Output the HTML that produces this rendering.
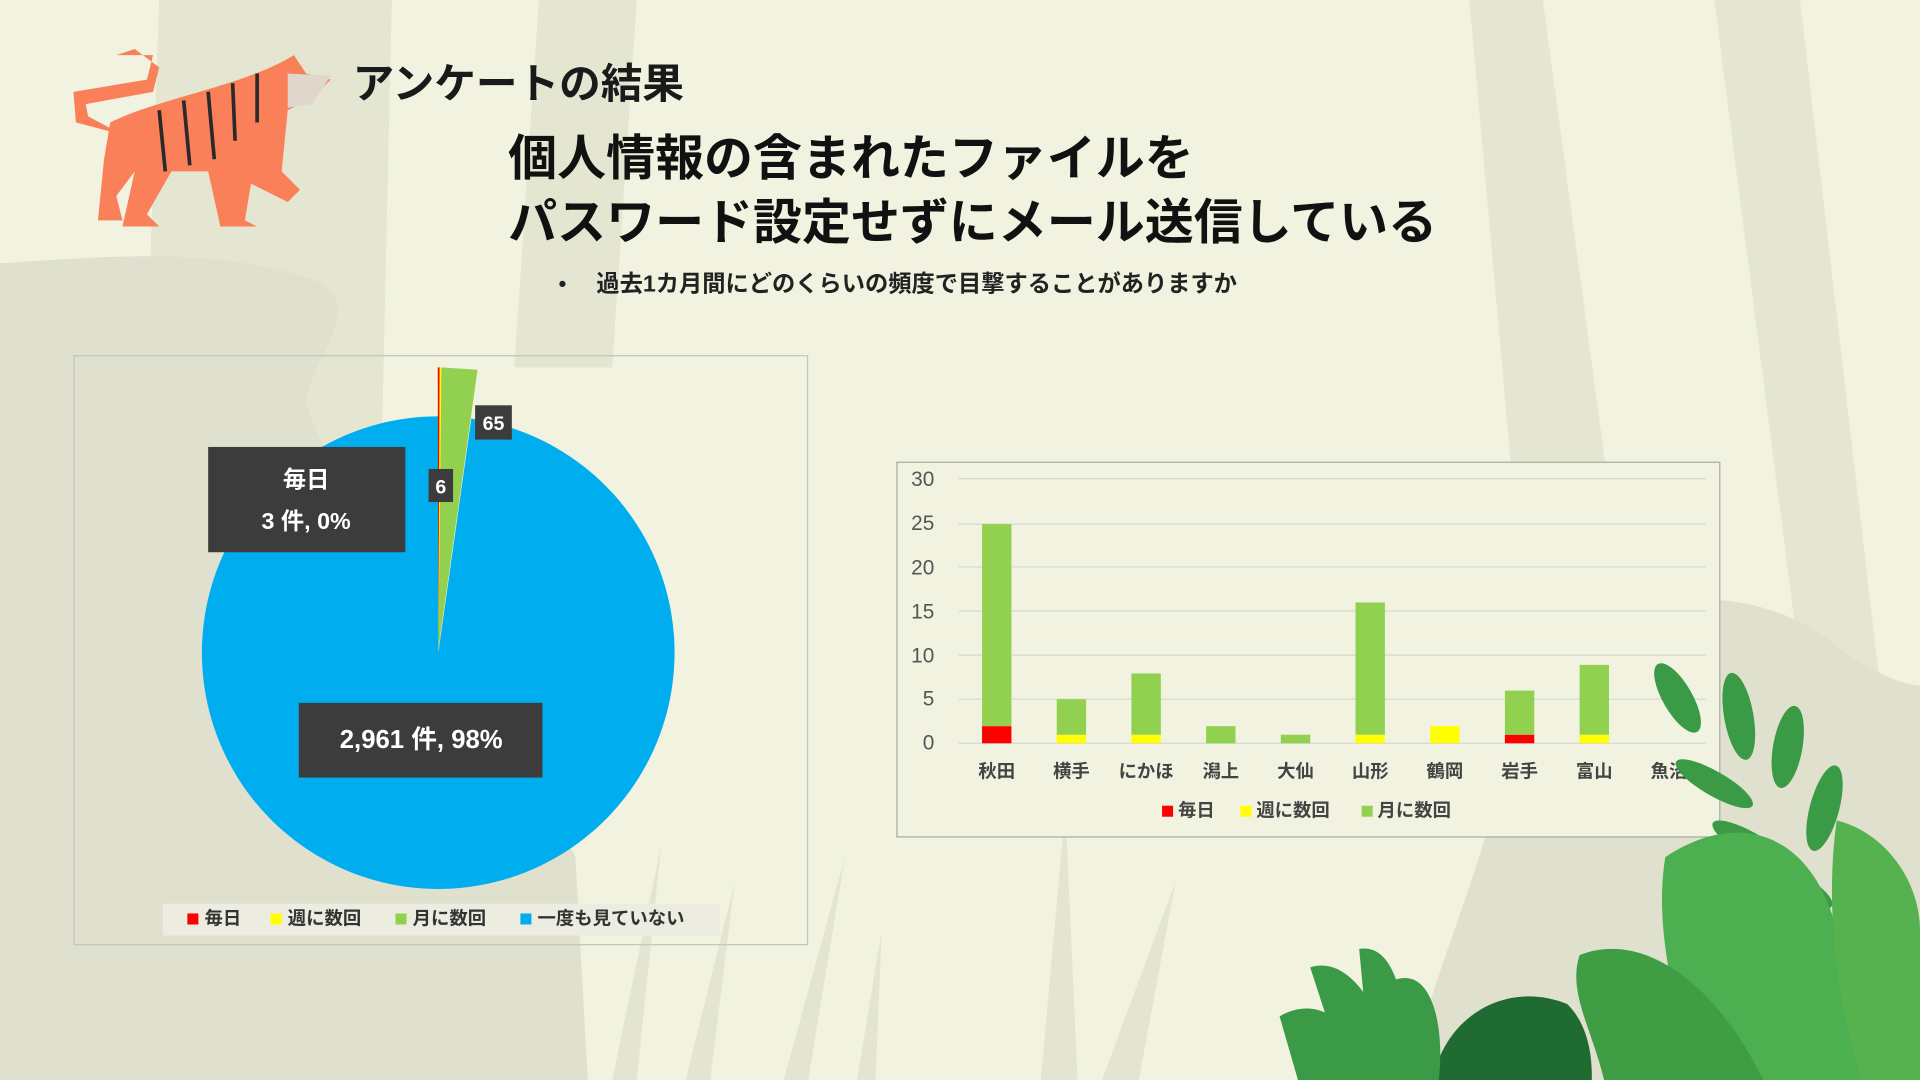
<!DOCTYPE html>
<html><head><meta charset="utf-8"><style>
html,body{margin:0;padding:0;width:1920px;height:1080px;overflow:hidden;background:#f1f3e0}
svg{display:block}
text{font-family:"Liberation Sans","Noto Sans CJK JP",sans-serif}
</style></head><body>
<svg width="1920" height="1080" viewBox="0 0 1568 882" preserveAspectRatio="none" xmlns="http://www.w3.org/2000/svg">
<rect width="1568" height="882" fill="#f1f3e0"/>
<polygon points="130,0 320,0 300,882 100,882" fill="#e4e6d2"/>
<polygon points="440,0 520,0 500,300 420,300" fill="#e4e6d2"/>
<polygon points="1200,0 1260,0 1330,520 1250,560" fill="#e4e6d2"/>
<polygon points="1400,0 1470,0 1540,600 1480,620" fill="#e4e6d2"/>
<path d="M0,215 C80,210 180,200 260,230 C300,250 250,300 250,330 C280,420 400,560 470,700 L480,882 L0,882 Z" fill="#e0e0cf"/>
<path d="M1240,560 C1300,480 1420,470 1490,520 C1540,560 1568,560 1568,560 L1568,882 L1150,882 C1180,760 1220,700 1240,560 Z" fill="#e0e0cf"/>
<g fill="#e3e4d2">
<polygon points="500,882 540,690 520,882"/><polygon points="560,882 600,720 580,882"/>
<polygon points="640,882 690,700 660,882"/><polygon points="700,882 720,760 715,882"/>
<polygon points="850,882 870,660 880,882"/><polygon points="900,882 960,720 930,882"/>
</g>
<g>
<path d="M62,100 L60,75 L120,65 L125,45 L95,45 L110,40 L130,55 L125,75 L70,85 L72,95 L100,110 Z" fill="#f98058"/>
<path d="M90,100 C130,80 200,70 240,45 L250,60 L270,65 L255,80 L235,90 L230,140 L245,155 L235,165 L205,150 L200,180 L210,185 L180,185 L170,140 L140,140 L120,175 L130,185 L100,185 L110,140 L95,160 L100,180 L80,180 L85,130 Z" fill="#f98058"/>
<path d="M130,90 L135,140 M150,82 L155,135 M170,75 L175,130 M190,68 L192,115 M210,60 L210,100" stroke="#2a2a2a" stroke-width="3"/>
<path d="M235,60 L270,62 L255,85 L235,88 Z" fill="#e0d6cc"/>
</g>
<text x="288" y="80" font-size="34" fill="#1a1a1a" font-weight="bold">アンケートの結果</text>
<text x="415" y="143" font-size="40" font-weight="bold" fill="#111">個人情報の含まれたファイルを</text>
<text x="415" y="195" font-size="40" font-weight="bold" fill="#111">パスワード設定せずにメール送信している</text>
<text x="456" y="238" font-size="19" fill="#222">•</text>
<text x="487" y="238" font-size="19" fill="#222" font-weight="bold">過去1カ月間にどのくらいの頻度で目撃することがありますか</text>
<rect x="60.5" y="290.5" width="599" height="481" fill="none" stroke="#c3c3c3"/>
<path d="M358,533 L384.9,341.9 A193,193 0 1,1 358,340 Z" fill="#00aeef"/>
<polygon points="358,530 360,300 390,302" fill="#92d050"/>
<polygon points="358,530 359,300 360.5,300" fill="#ffff00"/>
<polygon points="358,530 357.5,300 359,300" fill="#ff0000"/>
<rect x="170" y="365" width="161" height="86" fill="#3c3c3c"/>
<text x="250" y="398" font-size="19" fill="#fff" text-anchor="middle" font-weight="bold">毎日</text>
<text x="250" y="432" font-size="19" fill="#fff" text-anchor="middle" font-weight="bold">3 件, 0%</text>
<rect x="350" y="383" width="20" height="27" fill="#3c3c3c"/>
<text x="360" y="403" font-size="16" fill="#fff" text-anchor="middle" font-weight="bold">6</text>
<rect x="388" y="331" width="30" height="28" fill="#3c3c3c"/>
<text x="403" y="351" font-size="16" fill="#fff" text-anchor="middle" font-weight="bold">65</text>
<rect x="244" y="574" width="199" height="61" fill="#3c3c3c"/>
<text x="344" y="611" font-size="21" fill="#fff" text-anchor="middle" font-weight="bold">2,961 件, 98%</text>
<rect x="133" y="738" width="455" height="26" fill="#ecece0"/>
<g font-size="15" fill="#333" font-weight="bold">
<rect x="153" y="746" width="9" height="9" fill="#ff0000"/><text x="167" y="755">毎日</text>
<rect x="221" y="746" width="9" height="9" fill="#ffff00"/><text x="235" y="755">週に数回</text>
<rect x="323" y="746" width="9" height="9" fill="#92d050"/><text x="337" y="755">月に数回</text>
<rect x="425" y="746" width="9" height="9" fill="#00aeef"/><text x="439" y="755">一度も見ていない</text>
</g>
<rect x="732.5" y="377.5" width="672" height="306" fill="#f1f3e0" stroke="#a9a9a9"/>
<g stroke="#d6d6d6" stroke-width="1">
<line x1="783" y1="391" x2="1393" y2="391"/>
<line x1="783" y1="428" x2="1393" y2="428"/>
<line x1="783" y1="463" x2="1393" y2="463"/>
<line x1="783" y1="499" x2="1393" y2="499"/>
<line x1="783" y1="535" x2="1393" y2="535"/>
<line x1="783" y1="571" x2="1393" y2="571"/>
<line x1="783" y1="607" x2="1393" y2="607"/>
</g>
<g font-size="17" fill="#555" text-anchor="end">
<text x="763" y="397">30</text><text x="763" y="433">25</text><text x="763" y="469">20</text>
<text x="763" y="505">15</text><text x="763" y="541">10</text><text x="763" y="576">5</text><text x="763" y="612">0</text>
</g>
<g>
<rect x="802" y="593" width="24" height="14" fill="#ff0000"/><rect x="802" y="428" width="24" height="165" fill="#92d050"/>
<rect x="863" y="600" width="24" height="7" fill="#ffff00"/><rect x="863" y="571" width="24" height="29" fill="#92d050"/>
<rect x="924" y="600" width="24" height="7" fill="#ffff00"/><rect x="924" y="550" width="24" height="50" fill="#92d050"/>
<rect x="985" y="593" width="24" height="14" fill="#92d050"/>
<rect x="1046" y="600" width="24" height="7" fill="#92d050"/>
<rect x="1107" y="600" width="24" height="7" fill="#ffff00"/><rect x="1107" y="492" width="24" height="108" fill="#92d050"/>
<rect x="1168" y="593" width="24" height="14" fill="#ffff00"/>
<rect x="1229" y="600" width="24" height="7" fill="#ff0000"/><rect x="1229" y="564" width="24" height="36" fill="#92d050"/>
<rect x="1290" y="600" width="24" height="7" fill="#ffff00"/><rect x="1290" y="543" width="24" height="57" fill="#92d050"/>
</g>
<g font-size="15" fill="#444" text-anchor="middle" font-weight="bold">
<text x="814" y="635">秋田</text><text x="875" y="635">横手</text><text x="936" y="635">にかほ</text>
<text x="997" y="635">潟上</text><text x="1058" y="635">大仙</text><text x="1119" y="635">山形</text>
<text x="1180" y="635">鶴岡</text><text x="1241" y="635">岩手</text><text x="1302" y="635">富山</text><text x="1363" y="635">魚沼</text>
</g>
<g font-size="15" fill="#444" font-weight="bold">
<rect x="949" y="658" width="9" height="9" fill="#ff0000"/><text x="962" y="667">毎日</text>
<rect x="1013" y="658" width="9" height="9" fill="#ffff00"/><text x="1026" y="667">週に数回</text>
<rect x="1112" y="658" width="9" height="9" fill="#92d050"/><text x="1125" y="667">月に数回</text>
</g>
<g fill="#3a9a46">
<ellipse cx="1370" cy="570" rx="12" ry="32" transform="rotate(-30 1370 570)"/>
<ellipse cx="1420" cy="585" rx="12" ry="36" transform="rotate(-10 1420 585)"/>
<ellipse cx="1460" cy="610" rx="12" ry="34" transform="rotate(10 1460 610)"/>
<ellipse cx="1400" cy="640" rx="10" ry="36" transform="rotate(-60 1400 640)"/>
<ellipse cx="1490" cy="660" rx="12" ry="36" transform="rotate(15 1490 660)"/>
<ellipse cx="1430" cy="690" rx="10" ry="36" transform="rotate(-60 1430 690)"/>
<ellipse cx="1470" cy="725" rx="10" ry="30" transform="rotate(-60 1470 725)"/>
</g>
<path d="M1360,700 C1420,660 1480,680 1500,760 C1520,840 1540,882 1540,882 L1380,882 C1370,820 1350,760 1360,700 Z" fill="#4caf50"/>
<path d="M1500,670 C1540,680 1568,720 1568,760 L1568,882 L1520,882 C1500,820 1490,740 1500,670 Z" fill="#55b24f"/>
<path d="M1290,780 C1340,760 1400,800 1440,882 L1310,882 C1300,840 1280,810 1290,780 Z" fill="#3f9d44"/>
<path d="M1170,882 C1180,830 1230,800 1280,820 C1300,840 1300,870 1300,882 Z" fill="#1f6b32"/>
<path d="M1045,830 C1080,810 1110,840 1120,882 L1060,882 Z" fill="#3a9a46"/>
<path d="M1070,790 C1100,780 1130,820 1140,882 L1100,882 Z" fill="#3a9a46"/>
<path d="M1110,775 C1140,770 1150,820 1150,882 L1120,882 Z" fill="#3a9a46"/>
<path d="M1140,800 C1170,790 1180,840 1175,882 L1150,882 Z" fill="#3a9a46"/>
</svg>
</body></html>
